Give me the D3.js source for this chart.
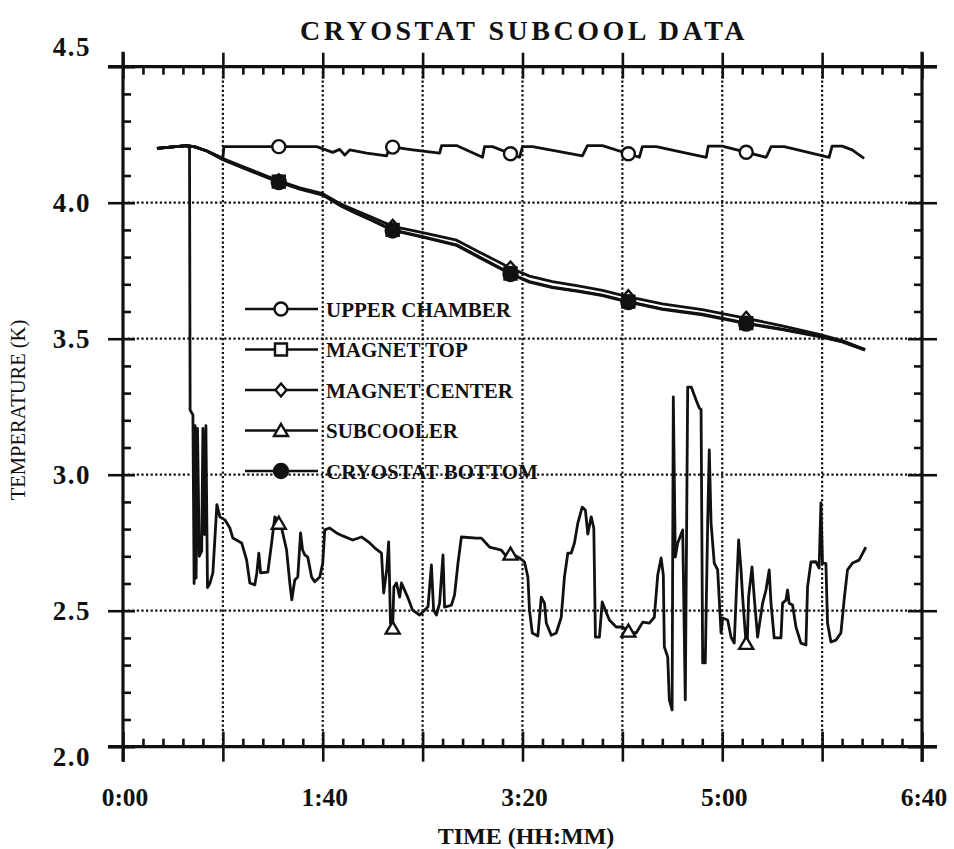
<!DOCTYPE html>
<html><head><meta charset="utf-8">
<script src="https://cdn.jsdelivr.net/npm/d3@7"></script>
<style>body{margin:0;background:#fff}svg{display:block}text{font-family:"Liberation Serif","Times New Roman",serif;fill:#111}</style>
</head><body><svg id="c" width="954" height="849"></svg>
<script>
// ---------- DATA (time in minutes, temperature in K) ----------
const chartTitle = "CRYOSTAT SUBCOOL DATA";
const xTitle = "TIME (HH:MM)";
const yTitle = "TEMPERATURE (K)";
const xTickValues = [0, 100, 200, 300, 400];
const xTickLabels = ["0:00", "1:40", "3:20", "5:00", "6:40"];
const yTickValues = [2.0, 2.5, 3.0, 3.5, 4.0, 4.5];
const yTickLabels = ["2.0", "2.5", "3.0", "3.5", "4.0", "4.5"];
const seriesNames = ["UPPER CHAMBER", "MAGNET TOP", "MAGNET CENTER", "SUBCOOLER", "CRYOSTAT BOTTOM"];
const markerTimes = [78, 135, 194, 253, 312];

const upperTime = [17, 25, 32, 36, 42, 50, 50.5, 73, 97, 105, 108.5, 111, 113.5, 122, 132, 133.5, 145, 158.5, 159.5, 167, 180, 181, 185, 198.5, 200, 205, 230, 232.5, 240, 258.5, 260, 267, 278.5, 292, 293, 300, 322, 324.5, 331, 353.5, 355, 360, 365, 371];
const upperTemp = [4.20, 4.205, 4.21, 4.205, 4.19, 4.163, 4.206, 4.206, 4.206, 4.185, 4.196, 4.175, 4.194, 4.182, 4.172, 4.206, 4.194, 4.182, 4.210, 4.210, 4.167, 4.206, 4.206, 4.167, 4.206, 4.206, 4.172, 4.210, 4.210, 4.167, 4.206, 4.206, 4.188, 4.167, 4.208, 4.208, 4.167, 4.206, 4.206, 4.167, 4.208, 4.208, 4.194, 4.163];

const coolTime = [17, 25, 32, 36, 42, 50, 60, 68.5, 77, 88.5, 100, 108.5, 116, 123.5, 135, 150, 167, 178.5, 194.5, 203.5, 215, 228.5, 240, 252, 270, 290, 311.5, 330, 348.5, 360, 371.5];
const magnetTopTemp = [4.20, 4.205, 4.21, 4.205, 4.19, 4.16, 4.13, 4.105, 4.08, 4.052, 4.03, 3.992, 3.965, 3.94, 3.90, 3.875, 3.845, 3.80, 3.738, 3.71, 3.69, 3.675, 3.66, 3.638, 3.61, 3.59, 3.558, 3.535, 3.51, 3.49, 3.46];
const magnetCenterTemp = [4.20, 4.205, 4.21, 4.205, 4.19, 4.162, 4.133, 4.108, 4.083, 4.055, 4.033, 3.997, 3.973, 3.95, 3.913, 3.89, 3.862, 3.818, 3.758, 3.73, 3.71, 3.693, 3.678, 3.656, 3.628, 3.607, 3.576, 3.547, 3.516, 3.493, 3.46];
const cryoBottomTemp = [4.20, 4.205, 4.21, 4.205, 4.19, 4.158, 4.128, 4.103, 4.078, 4.05, 4.028, 3.99, 3.963, 3.938, 3.898, 3.873, 3.843, 3.798, 3.736, 3.708, 3.688, 3.673, 3.658, 3.636, 3.608, 3.588, 3.556, 3.533, 3.508, 3.488, 3.458];

const subTime = [17, 25, 32, 33.3, 33.6, 35, 35.6, 36.1, 36.6, 37.3, 38.2, 39.4, 40.0, 40.8, 41.5, 42.3, 43.5, 45, 47, 48.5, 51, 53.5, 55, 59.4, 61.9, 63.5, 66, 67, 68, 68.9, 72.5, 74.4, 76, 77, 79.4, 81.9, 83.5, 84.5, 86, 87.5, 88.9, 89.9, 91, 92.5, 94.4, 96, 98.5, 100, 101, 103.5, 106.9, 110, 115, 119.4, 123.5, 126, 129.4, 130.5, 132, 133, 133.9, 135, 135.6, 136.9, 138.5, 139.4, 142.5, 145, 148.5, 151, 152.7, 154.4, 155.5, 156.9, 158.5, 160.2, 161, 164.4, 166, 167.7, 169.4, 176.9, 179.4, 183.5, 189.4, 191.9, 194.5, 198.5, 201, 202.7, 203.5, 204.9, 207.7, 209.4, 211, 211.9, 214.4, 216.9, 219.4, 221, 222.7, 224.4, 226, 227.7, 229.9, 231.5, 232.7, 234.4, 235.7, 236.5, 238.5, 239.9, 241.5, 243.5, 246.9, 250.2, 253.5, 256.9, 260.2, 263.5, 266, 267.7, 269.4, 270.5, 271, 272.7, 273.5, 274.9, 275.5, 276.5, 277.7, 280.2, 281.5, 282.7, 284.5, 286.9, 288.5, 289.4, 290.2, 291.5, 292.7, 293.5, 294.4, 296, 297.7, 299.4, 300.2, 302.7, 304.4, 306, 306.9, 308.2, 309.4, 310.2, 311.9, 312.5, 313.2, 314.9, 316, 317.7, 320.2, 321.9, 323.5, 324.4, 326, 329.4, 330.2, 331.9, 332.7, 333.5, 335.2, 336.9, 339.4, 341.9, 342.7, 344.4, 346.9, 348.5, 349.4, 350.2, 351.9, 352.7, 354.4, 356.9, 359.4, 361, 362.7, 365.2, 368.5, 371.9];
const subTemp = [4.20, 4.205, 4.21, 4.20, 3.238, 3.22, 2.60, 3.18, 2.62, 3.17, 2.70, 2.72, 3.17, 2.78, 3.18, 2.585, 2.60, 2.64, 2.89, 2.845, 2.834, 2.804, 2.767, 2.749, 2.686, 2.602, 2.595, 2.639, 2.712, 2.639, 2.642, 2.749, 2.845, 2.834, 2.804, 2.723, 2.602, 2.54, 2.613, 2.624, 2.786, 2.723, 2.705, 2.697, 2.624, 2.606, 2.624, 2.675, 2.797, 2.804, 2.786, 2.775, 2.760, 2.771, 2.749, 2.731, 2.712, 2.565, 2.650, 2.753, 2.455, 2.436, 2.587, 2.602, 2.550, 2.602, 2.550, 2.502, 2.484, 2.502, 2.515, 2.668, 2.502, 2.484, 2.528, 2.705, 2.513, 2.520, 2.558, 2.675, 2.771, 2.767, 2.767, 2.734, 2.723, 2.70, 2.71, 2.694, 2.679, 2.624, 2.502, 2.418, 2.407, 2.550, 2.528, 2.455, 2.410, 2.418, 2.476, 2.624, 2.712, 2.712, 2.749, 2.822, 2.881, 2.869, 2.782, 2.845, 2.804, 2.403, 2.403, 2.532, 2.502, 2.466, 2.440, 2.440, 2.422, 2.418, 2.458, 2.454, 2.476, 2.631, 2.694, 2.631, 2.367, 2.330, 2.172, 2.135, 3.286, 2.697, 2.749, 2.797, 2.172, 3.322, 3.322, 3.275, 3.245, 3.24, 2.308, 2.308, 2.822, 3.091, 2.822, 2.675, 2.650, 2.418, 2.473, 2.466, 2.403, 2.381, 2.539, 2.760, 2.650, 2.550, 2.381, 2.374, 2.552, 2.661, 2.550, 2.403, 2.528, 2.576, 2.650, 2.528, 2.400, 2.400, 2.528, 2.539, 2.576, 2.527, 2.521, 2.440, 2.381, 2.374, 2.587, 2.679, 2.68, 2.657, 2.896, 2.675, 2.674, 2.455, 2.385, 2.392, 2.418, 2.539, 2.650, 2.675, 2.686, 2.734];

// ---------- LAYOUT ----------
const plot = {left: 123, right: 922, top: 66.7, bottom: 746.7};
const x = d3.scaleLinear().domain([0, 400]).range([plot.left, plot.right]);
const y = d3.scaleLinear().domain([2.0, 4.5]).range([plot.bottom, plot.top]);
const svg = d3.select("#c");
const INK = "#111";

// grid
const gridX = d3.range(50, 400, 50);
const gridY = [2.5, 3.0, 3.5, 4.0];
const grid = svg.append("g").attr("stroke", INK).attr("stroke-width", 2.2).attr("stroke-dasharray", "2.2,2.4");
grid.selectAll("line.gx").data(gridX).join("line").attr("class", "gx")
  .attr("x1", d => x(d)).attr("x2", d => x(d)).attr("y1", plot.top).attr("y2", plot.bottom);
grid.selectAll("line.gy").data(gridY).join("line").attr("class", "gy")
  .attr("y1", d => y(d)).attr("y2", d => y(d)).attr("x1", plot.left).attr("x2", plot.right);

// axes (ticks crossing the frame)
const xMajor = d3.range(0, 401, 50);
const xMinor = d3.range(0, 401, 10).filter(v => v % 50 !== 0);
const yMajor = d3.range(2.0, 4.51, 0.5).map(v => +v.toFixed(1));
const yMinor = d3.range(2.0, 4.51, 0.1).map(v => +v.toFixed(1)).filter(v => Math.round(v * 10) % 5 !== 0);

function styleAxis(g) {
  g.select(".domain").remove();
  g.selectAll("text").remove();
  g.selectAll("line").attr("stroke", INK).attr("stroke-width", 2.6);
}
svg.append("g").attr("transform", `translate(0,${plot.bottom})`)
  .call(d3.axisBottom(x).tickValues(xMajor).tickSize(15)).call(styleAxis)
  .selectAll(".tick line").attr("y1", -15);
svg.append("g").attr("transform", `translate(0,${plot.bottom})`)
  .call(d3.axisTop(x).tickValues(xMinor).tickSize(8)).call(styleAxis);
svg.append("g").attr("transform", `translate(0,${plot.top})`)
  .call(d3.axisTop(x).tickValues(xMajor).tickSize(14)).call(styleAxis)
  .selectAll(".tick line").attr("y1", 12);
svg.append("g").attr("transform", `translate(0,${plot.top})`)
  .call(d3.axisBottom(x).tickValues(xMinor).tickSize(8)).call(styleAxis);
svg.append("g").attr("transform", `translate(${plot.left},0)`)
  .call(d3.axisLeft(y).tickValues(yMajor).tickSize(15)).call(styleAxis)
  .selectAll(".tick line").attr("x1", 12);
svg.append("g").attr("transform", `translate(${plot.left},0)`)
  .call(d3.axisRight(y).tickValues(yMinor).tickSize(8)).call(styleAxis);
svg.append("g").attr("transform", `translate(${plot.right},0)`)
  .call(d3.axisRight(y).tickValues(yMajor).tickSize(15)).call(styleAxis)
  .selectAll(".tick line").attr("x1", -14);
svg.append("g").attr("transform", `translate(${plot.right},0)`)
  .call(d3.axisLeft(y).tickValues(yMinor).tickSize(8)).call(styleAxis);

const ext = 15;
const frame = svg.append("g").attr("stroke", INK).attr("stroke-width", 3.2);
frame.append("line").attr("x1", plot.left - ext).attr("x2", plot.right + ext).attr("y1", plot.top).attr("y2", plot.top);
frame.append("line").attr("x1", plot.left - ext).attr("x2", plot.right + ext).attr("y1", plot.bottom).attr("y2", plot.bottom);
frame.append("line").attr("x1", plot.left).attr("x2", plot.left).attr("y1", plot.top - ext).attr("y2", plot.bottom + ext);
frame.append("line").attr("x1", plot.right).attr("x2", plot.right).attr("y1", plot.top - ext).attr("y2", plot.bottom + ext);

// tick labels (end labels nudged off the corners, as in the original)
svg.append("g").selectAll("text").data(xTickValues).join("text")
  .attr("x", d => x(d) + 2).attr("y", 806).attr("text-anchor", "middle")
  .attr("font-size", 25.5).attr("font-weight", "bold").text((d, i) => xTickLabels[i]);
const yNudge = v => v === 4.5 ? -20 : (v === 2.0 ? 10 : 0);
svg.append("g").selectAll("text").data(yTickValues).join("text")
  .attr("x", 91).attr("y", d => y(d) + 9 + yNudge(d)).attr("text-anchor", "end")
  .attr("font-size", 27).attr("font-weight", "bold").attr("letter-spacing", 1.5).text((d, i) => yTickLabels[i]);

// titles
svg.append("text").attr("x", 524).attr("y", 40).attr("text-anchor", "middle")
  .attr("font-size", 28).attr("font-weight", "bold").attr("letter-spacing", 3.5).text(chartTitle);
svg.append("text").attr("x", 526).attr("y", 844).attr("text-anchor", "middle")
  .attr("font-size", 24).attr("font-weight", "bold").text(xTitle);
svg.append("text").attr("transform", "translate(25,410) rotate(-90)").attr("text-anchor", "middle")
  .attr("font-size", 20.5).text(yTitle);

// ---------- SERIES ----------
function zip(t, v) { return t.map((d, i) => [d, v[i]]); }
const series = [
  {name: seriesNames[0], pts: zip(upperTime, upperTemp), marker: "circle"},
  {name: seriesNames[1], pts: zip(coolTime, magnetTopTemp), marker: "square"},
  {name: seriesNames[2], pts: zip(coolTime, magnetCenterTemp), marker: "diamond"},
  {name: seriesNames[3], pts: zip(subTime, subTemp), marker: "triangle"},
  {name: seriesNames[4], pts: zip(coolTime, cryoBottomTemp), marker: "dot"}
];
function markerPath(type) {
  switch (type) {
    case "circle": return "M6.5,0A6.5,6.5 0 1,1 -6.5,0A6.5,6.5 0 1,1 6.5,0Z";
    case "dot": return "M7,0A7,7 0 1,1 -7,0A7,7 0 1,1 7,0Z";
    case "square": return "M-6,-6H6V6H-6Z";
    case "diamond": return "M0,-6.5L5.5,0L0,6.5L-5.5,0Z";
    case "triangle": return "M0,-6.5L7,5.5H-7Z";
  }
}
function interp(pts, t) {
  const i = d3.bisector(d => d[0]).left(pts, t);
  if (i <= 0) return pts[0][1];
  if (i >= pts.length) return pts[pts.length - 1][1];
  const a = pts[i - 1], b = pts[i];
  return a[1] + (b[1] - a[1]) * (t - a[0]) / (b[0] - a[0]);
}
const line = d3.line().x(d => x(d[0])).y(d => y(d[1]));
const gS = svg.append("g");
series.forEach(s => {
  gS.append("path").datum(s.pts).attr("d", line).attr("fill", "none")
    .attr("stroke", INK).attr("stroke-width", 2.8).attr("stroke-linejoin", "round");
});
series.forEach(s => {
  gS.selectAll(null).data(markerTimes).join("path")
    .attr("transform", t => `translate(${x(t)},${y(interp(s.pts, t))})`)
    .attr("d", markerPath(s.marker))
    .attr("fill", s.marker === "dot" ? INK : "#fff")
    .attr("stroke", INK).attr("stroke-width", 2.4);
});

// ---------- LEGEND ----------
const legY0 = 309, legStep = 40.5;
const leg = svg.append("g");
series.forEach((s, i) => {
  const yy = legY0 + i * legStep;
  leg.append("line").attr("x1", 245).attr("x2", 318).attr("y1", yy).attr("y2", yy)
    .attr("stroke", INK).attr("stroke-width", 2.6);
  leg.append("path").attr("transform", `translate(281,${yy})`).attr("d", markerPath(s.marker))
    .attr("fill", s.marker === "dot" ? INK : "#fff").attr("stroke", INK).attr("stroke-width", 2.4);
  leg.append("text").attr("x", 326).attr("y", yy + 7.5).attr("font-size", 21)
    .attr("font-weight", "bold").text(s.name);
});
</script></body></html>
